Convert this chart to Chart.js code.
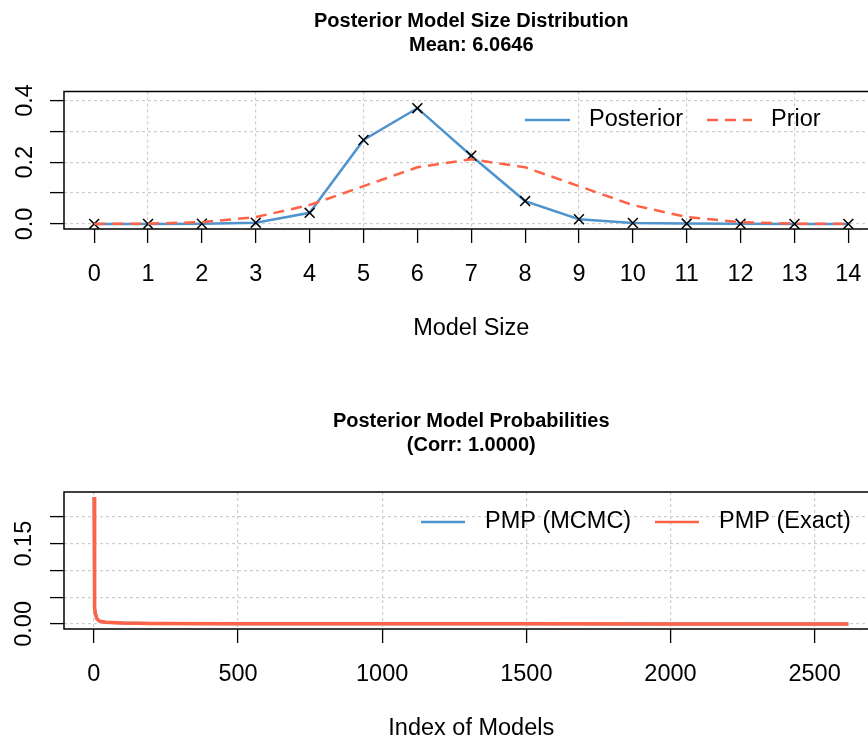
<!DOCTYPE html>
<html><head><meta charset="utf-8">
<script src="https://cdn.jsdelivr.net/npm/chart.js@4.4.1/dist/chart.umd.min.js"></script>
<style>
html,body{margin:0;padding:0;background:#fff;overflow:hidden;width:868px;height:740px}
#wrap1{position:absolute;left:0;top:0;width:880px;height:400px}
#wrap2{position:absolute;left:0;top:400px;width:880px;height:400px}
canvas{display:block}
</style></head><body>
<div id="wrap1"><canvas id="c1" width="880" height="400"></canvas></div>
<div id="wrap2"><canvas id="c2" width="880" height="400"></canvas></div>
<script>
// ---------- data: panel 1 (model size distribution) ----------
const modelSizes = [0, 1, 2, 3, 4, 5, 6, 7, 8, 9, 10, 11, 12, 13, 14];
const posteriorSize = [0.0000, 0.0001, 0.0004, 0.0040, 0.0360, 0.2720, 0.3750, 0.2210, 0.0740, 0.0150, 0.0030, 0.0010, 0.0002, 0.0000, 0.0000];
const priorSize = [0.0001, 0.0009, 0.0056, 0.0222, 0.0611, 0.1222, 0.1833, 0.2095, 0.1833, 0.1222, 0.0611, 0.0222, 0.0056, 0.0009, 0.0001];
const sizeYTicks = [0, 0.1, 0.2, 0.3, 0.4];
const sizeYTickLabels = ['0.0', '', '0.2', '', '0.4'];
const sizeTitle = ['Posterior Model Size Distribution', 'Mean: 6.0646'];

// ---------- data: panel 2 (posterior model probabilities) ----------
const pmpIndex = [1, 2, 3, 5, 10, 20, 40, 100, 200, 500, 1000, 1500, 2000, 2617];
const pmpMcmc = [0.237, 0.060, 0.030, 0.020, 0.010, 0.005, 0.003, 0.0015, 0.0008, 0.0003, 0.00015, 0.00008, 0.00005, 0.00001];
const pmpExact = [0.237, 0.060, 0.030, 0.020, 0.010, 0.005, 0.003, 0.0015, 0.0008, 0.0003, 0.00015, 0.00008, 0.00005, 0.00001];
const pmpXTicks = [0, 500, 1000, 1500, 2000, 2500];
const pmpYTicks = [0, 0.05, 0.10, 0.15, 0.20];
const pmpYTickLabels = ['0.00', '', '', '0.15', ''];
const pmpTitle = ['Posterior Model Probabilities', '(Corr: 1.0000)'];

// ---------- styling ----------
const FAMILY = '"Liberation Sans", Arial, Helvetica, sans-serif';
const FS = 23.5;
const BLUE = '#4F94CD';
const RED = '#FF6347';
const GRID = '#CDCDCD';
Chart.defaults.font.family = FAMILY;
Chart.defaults.color = '#000';

function panelPlugin(titleLines, legendPos) {
  return {
    id: 'panel',
    afterDraw(chart) {
      const {ctx, chartArea: a} = chart;
      ctx.save();
      ctx.strokeStyle = '#000';
      ctx.lineWidth = 1.5;
      ctx.setLineDash([]);
      ctx.strokeRect(a.left, a.top, a.right - a.left, a.bottom - a.top);
      ctx.fillStyle = '#000';
      ctx.font = 'bold 20px ' + FAMILY;
      ctx.textAlign = 'center';
      ctx.textBaseline = 'middle';
      const cx = (a.left + a.right) / 2;
      titleLines.forEach((t, i) => ctx.fillText(t, cx, 21 + i * 24));
      ctx.font = FS + 'px ' + FAMILY;
      ctx.textAlign = 'left';
      chart.data.datasets.forEach((ds, i) => {
        const p = legendPos[i];
        ctx.strokeStyle = ds.borderColor;
        ctx.lineWidth = 2.5;
        ctx.setLineDash(ds.borderDash || []);
        ctx.beginPath();
        ctx.moveTo(p.x0, p.y);
        ctx.lineTo(p.x1, p.y);
        ctx.stroke();
        ctx.setLineDash([]);
        ctx.fillStyle = '#000';
        ctx.fillText(ds.label, p.tx, p.y);
      });
      ctx.restore();
    }
  };
}

function gridOpts(colorFn) {
  return {
    color: colorFn || GRID,
    lineWidth: 1.2,
    drawOnChartArea: true,
    drawTicks: true,
    tickLength: 14,
    tickColor: '#000',
    tickWidth: 1.3,
    tickBorderDash: []
  };
}

function xScale(min, max, tickVals, title, colorFn) {
  return {
    type: 'linear', min: min, max: max, z: 1,
    afterBuildTicks: s => { s.ticks = tickVals.map(v => ({value: v})); },
    afterFit: s => { s.height = 171; s.paddingLeft = 0; s.paddingRight = 0; },
    grid: gridOpts(colorFn),
    border: {display: false, dash: [3, 3]},
    ticks: {font: {size: FS, family: FAMILY}, color: '#000', padding: 17,
            maxRotation: 0, minRotation: 0, autoSkip: false,
            callback: v => String(v)},
    title: {display: true, text: title, color: '#000', font: {size: FS, family: FAMILY},
            padding: {top: 0, bottom: 57}}
  };
}

function yScale(min, max, tickVals, labels, pad) {
  return {
    type: 'linear', min: min, max: max, z: 1,
    afterBuildTicks: s => { s.ticks = tickVals.map(v => ({value: v})); },
    afterFit: s => { s.width = 64; s.paddingTop = 0; s.paddingBottom = 0; },
    grid: gridOpts(),
    border: {display: false, dash: [3, 3]},
    ticks: {font: {size: FS, family: FAMILY}, color: '#000', padding: pad,
            minRotation: 90, maxRotation: 90, crossAlign: 'center', autoSkip: false,
            callback: (v, i) => labels[i]}
  };
}

// ---------- chart 1 ----------
new Chart(document.getElementById('c1'), {
  type: 'line',
  data: {
    datasets: [
      {
        label: 'Posterior',
        data: modelSizes.map((x, i) => ({x: x, y: posteriorSize[i]})),
        borderColor: BLUE, borderWidth: 2.5, tension: 0, fill: false,
        pointStyle: 'crossRot', pointRadius: 7, pointBorderColor: '#000',
        pointBorderWidth: 1.5, pointBackgroundColor: 'rgba(0,0,0,0)', order: 1
      },
      {
        label: 'Prior',
        data: modelSizes.map((x, i) => ({x: x, y: priorSize[i]})),
        borderColor: RED, borderWidth: 2.5, borderDash: [11, 7], tension: 0, fill: false,
        pointRadius: 0, order: 0
      }
    ]
  },
  options: {
    responsive: false, animation: false, devicePixelRatio: 1,
    layout: {autoPadding: false, padding: {top: 91.5, right: 1.5, left: 0, bottom: 0}},
    plugins: {legend: {display: false}, tooltip: {enabled: false}, title: {display: false}},
    scales: {
      x: xScale(-0.56, 14.56, modelSizes, 'Model Size',
                c => (c.tick && Math.abs(c.tick.value % 2) === 1) ? GRID : 'rgba(0,0,0,0)'),
      y: yScale(-0.0165, 0.429, sizeYTicks, sizeYTickLabels, 8)
    }
  },
  plugins: [panelPlugin(sizeTitle, [
    {x0: 525, x1: 570, tx: 589, y: 120},
    {x0: 707, x1: 752, tx: 771, y: 120}
  ])]
});

// ---------- chart 2 ----------
new Chart(document.getElementById('c2'), {
  type: 'line',
  data: {
    datasets: [
      {
        label: 'PMP (MCMC)',
        data: pmpIndex.map((x, i) => ({x: x, y: pmpMcmc[i]})),
        borderColor: BLUE, borderWidth: 3, tension: 0, fill: false, pointRadius: 0, order: 1
      },
      {
        label: 'PMP (Exact)',
        data: pmpIndex.map((x, i) => ({x: x, y: pmpExact[i]})),
        borderColor: RED, borderWidth: 3.5, tension: 0, fill: false, pointRadius: 0, order: 0
      }
    ]
  },
  options: {
    responsive: false, animation: false, devicePixelRatio: 1,
    layout: {autoPadding: false, padding: {top: 92, right: 1.5, left: 0, bottom: 0}},
    plugins: {legend: {display: false}, tooltip: {enabled: false}, title: {display: false}},
    scales: {
      x: xScale(-103.6, 2721.6, pmpXTicks, 'Index of Models'),
      y: yScale(-0.0095, 0.2465, pmpYTicks, pmpYTickLabels, 2.6)
    }
  },
  plugins: [panelPlugin(pmpTitle, [
    {x0: 421, x1: 465, tx: 485, y: 122},
    {x0: 655, x1: 699, tx: 719, y: 122}
  ])]
});
</script>
</body></html>
